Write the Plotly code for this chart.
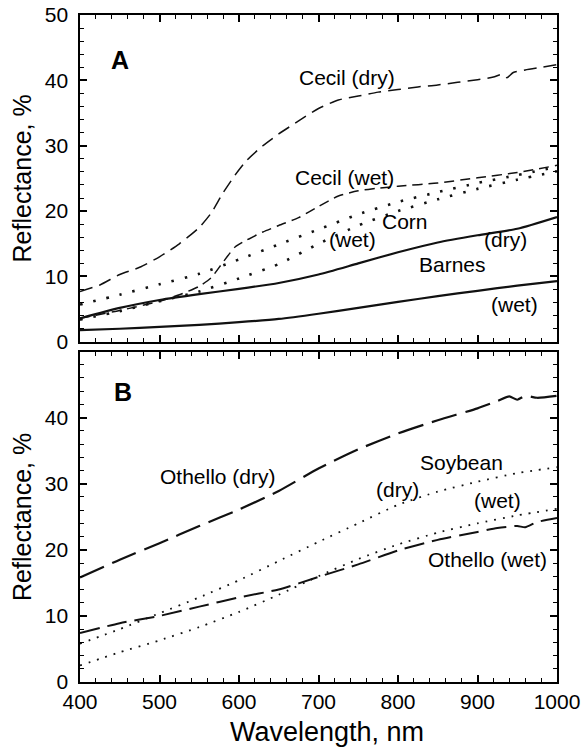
import plotly.graph_objects as go

# ---- Panel A: soils and corn residue ----
cecil_dry_wl = [400, 425, 450, 475, 500, 525, 550, 565, 580, 595, 610, 630, 650, 675, 700,
                725, 750, 775, 800, 825, 850, 875, 900, 920, 930, 937, 945, 960, 980, 1000]
cecil_dry = [7.7, 8.7, 10.3, 11.4, 13.0, 15.0, 17.5, 19.7, 22.8, 25.5, 27.8, 30.0, 31.8, 33.8, 35.7,
             37.0, 37.6, 38.2, 38.6, 39.0, 39.3, 39.7, 40.1, 40.5, 40.9, 40.4, 41.2, 41.6, 42.0, 42.4]

cecil_wet_wl = [400, 450, 500, 525, 550, 565, 580, 595, 610, 630, 650, 675, 700, 725, 750,
                775, 800, 850, 900, 950, 1000]
cecil_wet = [3.6, 4.8, 6.2, 7.2, 8.5, 9.8, 12.2, 14.5, 15.6, 16.8, 17.8, 19.0, 20.7, 22.3, 23.1,
             23.5, 23.8, 24.3, 25.1, 25.9, 27.0]

corn_wl = [400, 450, 500, 550, 600, 650, 700, 750, 800, 850, 900, 950, 1000]
corn_dry = [5.7, 7.2, 8.8, 10.4, 12.6, 14.9, 17.2, 19.5, 21.4, 22.9, 24.3, 25.5, 26.8]
corn_wet = [3.4, 4.7, 6.2, 7.7, 9.7, 11.9, 15.0, 17.8, 20.0, 21.8, 23.4, 24.8, 26.1]

barnes_wl = [400, 450, 500, 550, 600, 650, 700, 750, 800, 850, 900, 950, 1000]
barnes_dry = [3.6, 5.2, 6.4, 7.3, 8.1, 9.0, 10.3, 12.0, 13.7, 15.2, 16.3, 17.3, 19.1]
barnes_wet = [1.8, 2.0, 2.3, 2.6, 3.0, 3.5, 4.3, 5.2, 6.1, 7.0, 7.8, 8.6, 9.3]

# ---- Panel B: Othello soil and soybean residue ----
othello_dry_wl = [400, 450, 500, 550, 600, 650, 700, 750, 800, 850, 900, 925, 940, 950, 960, 975, 1000]
othello_dry = [15.8, 18.5, 21.0, 23.6, 26.1, 28.9, 32.3, 35.2, 37.6, 39.6, 41.4, 42.5, 43.2, 42.7, 43.3, 43.0, 43.3]

othello_wet_wl = [400, 450, 500, 550, 600, 650, 700, 750, 800, 850, 900, 925, 950, 960, 975, 1000]
othello_wet = [7.4, 8.9, 10.0, 11.4, 12.8, 14.0, 15.9, 17.8, 19.9, 21.5, 22.7, 23.3, 23.6, 23.4, 24.2, 24.8]

soy_wl = [400, 450, 500, 550, 600, 650, 700, 750, 800, 850, 900, 950, 1000]
soy_dry = [5.8, 8.0, 10.4, 12.8, 15.4, 18.3, 21.2, 24.0, 26.8, 28.8, 30.3, 31.6, 32.5]
soy_wet = [2.5, 4.5, 6.3, 8.3, 10.6, 13.2, 16.0, 18.6, 20.8, 22.6, 24.0, 25.2, 26.2]

FONT = "Liberation Sans, Arial, sans-serif"
BLACK = "black"

fig = go.Figure()


def add_line(x, y, xaxis, yaxis, dash, width):
    fig.add_trace(go.Scatter(
        x=x, y=y, mode="lines", xaxis=xaxis, yaxis=yaxis,
        line=dict(color="#111111", width=width, dash=dash, shape="spline", smoothing=0.6),
        showlegend=False, hoverinfo="skip"))


# panel A traces (x2 / y2 = top panel)
add_line(cecil_dry_wl, cecil_dry, "x2", "y2", "13px,7px", 1.5)
add_line(cecil_wet_wl, cecil_wet, "x2", "y2", "10px,6px", 1.5)
add_line(corn_wl, corn_dry, "x2", "y2", "2.5px,11px", 2.6)
add_line(corn_wl, corn_wet, "x2", "y2", "2.5px,11px", 2.6)
add_line(barnes_wl, barnes_dry, "x2", "y2", "solid", 2.2)
add_line(barnes_wl, barnes_wet, "x2", "y2", "solid", 2.2)

# panel B traces (x / y = bottom panel)
add_line(othello_dry_wl, othello_dry, "x", "y", "26px,9px", 2.2)
add_line(othello_wet_wl, othello_wet, "x", "y", "20px,8px", 2.0)
add_line(soy_wl, soy_dry, "x", "y", "1.8px,7px", 1.8)
add_line(soy_wl, soy_wet, "x", "y", "1.8px,7px", 1.8)

minor_x = dict(dtick=20, ticks="inside", ticklen=4, tickcolor=BLACK, tickwidth=1, showgrid=False)
minor_y = dict(dtick=2, ticks="inside", ticklen=4, tickcolor=BLACK, tickwidth=1, showgrid=False)

axis_common = dict(
    showline=True, linecolor=BLACK, linewidth=1.5, mirror="allticks",
    ticks="inside", ticklen=7, tickwidth=1.5, tickcolor=BLACK,
    showgrid=False, zeroline=False, automargin=False,
    tickfont=dict(family=FONT, size=21, color=BLACK),
)

fig.update_layout(
    width=581, height=755,
    margin=dict(l=80, r=24, t=15, b=73),
    paper_bgcolor="white", plot_bgcolor="white",
    font=dict(family=FONT, color=BLACK),
    xaxis=dict(
        **axis_common, range=[400, 1000], tickmode="linear", tick0=400, dtick=100,
        minor=minor_x, anchor="y",
    ),
    xaxis2=dict(
        **axis_common, range=[400, 1000], tickmode="linear", tick0=400, dtick=100,
        minor=minor_x, showticklabels=False, matches="x", anchor="y2",
    ),
    yaxis=dict(
        **axis_common, domain=[0, 0.495], range=[0, 49.95], tickmode="linear", tick0=0, dtick=10,
        minor=minor_y, ticksuffix="\u00a0",
        title=dict(text="Reflectance, %", font=dict(family=FONT, size=25, color=BLACK), standoff=6),
        anchor="x",
    ),
    yaxis2=dict(
        **axis_common, domain=[0.51, 1], range=[0, 50], tickmode="linear", tick0=0, dtick=10,
        minor=minor_y, ticksuffix="\u00a0",
        title=dict(text="Reflectance, %", font=dict(family=FONT, size=25, color=BLACK), standoff=6),
        anchor="x2",
    ),
)

# shared x-axis title under the lower panel
fig.add_annotation(x=0.518, y=-0.075, xref="paper", yref="paper", text="Wavelength, nm",
                   showarrow=False, yanchor="middle",
                   font=dict(family=FONT, size=27, color=BLACK))

labels_a = [
    ("Cecil (dry)", 736, 40.4),
    ("Cecil (wet)", 733, 25.2),
    ("Corn", 809, 18.4),
    ("(wet)", 743, 15.6),
    ("(dry)", 935, 15.6),
    ("Barnes", 868, 11.8),
    ("(wet)", 946, 5.7),
]
labels_b = [
    ("Othello (dry)", 574, 31.1),
    ("Soybean", 880, 33.2),
    ("(dry)", 799, 29.1),
    ("(wet)", 925, 27.4),
    ("Othello (wet)", 912, 18.5),
]

for text, x, y in labels_a:
    fig.add_annotation(x=x, y=y, xref="x2", yref="y2", text=text, showarrow=False,
                       font=dict(family=FONT, size=21, color=BLACK))
for text, x, y in labels_b:
    fig.add_annotation(x=x, y=y, xref="x", yref="y", text=text, showarrow=False,
                       font=dict(family=FONT, size=21, color=BLACK))

fig.add_annotation(x=450, y=43.1, xref="x2", yref="y2", text="<b>A</b>", showarrow=False,
                   font=dict(family=FONT, size=25, color=BLACK))
fig.add_annotation(x=454, y=43.9, xref="x", yref="y", text="<b>B</b>", showarrow=False,
                   font=dict(family=FONT, size=25, color=BLACK))

fig.write_html("out.html")
